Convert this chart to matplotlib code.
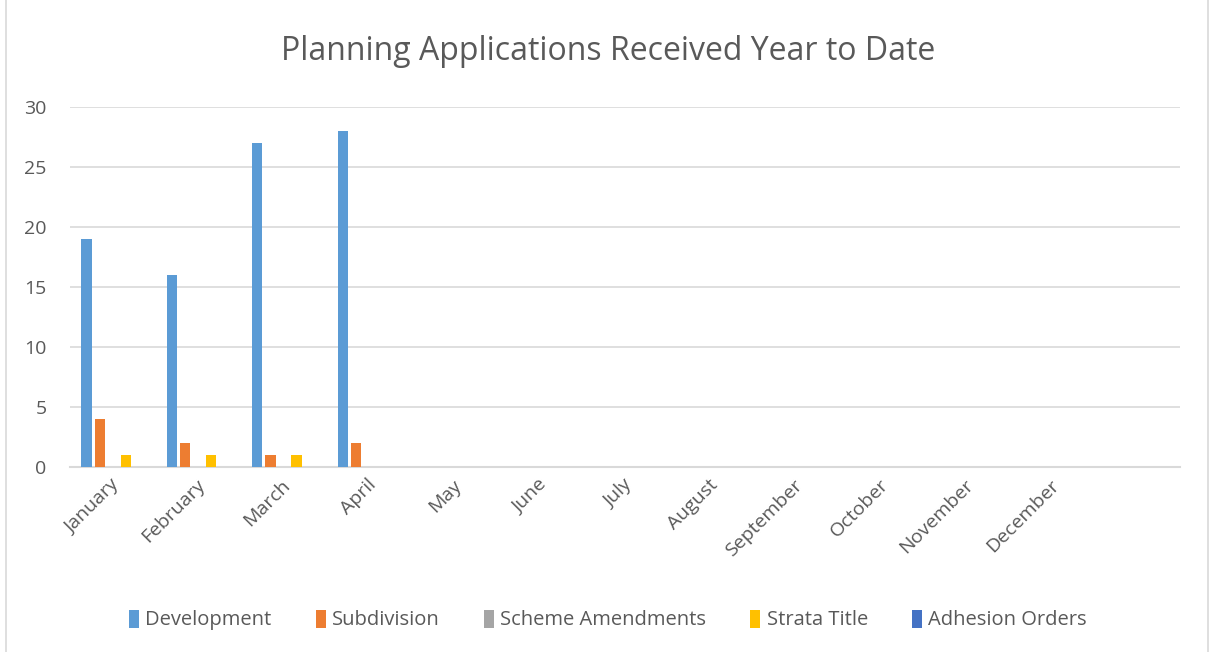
import numpy as np
import matplotlib
matplotlib.use("Agg")
import matplotlib.pyplot as plt
from matplotlib.patches import Rectangle

# Meses (la ultima posicion queda vacia, como en la hoja original)
months = ["January", "February", "March", "April", "May", "June", "July",
          "August", "September", "October", "November", "December", ""]

development = [19, 16, 27, 28, 0, 0, 0, 0, 0, 0, 0, 0, 0]
subdivision = [4, 2, 1, 2, 0, 0, 0, 0, 0, 0, 0, 0, 0]
scheme_amendments = [0, 0, 0, 0, 0, 0, 0, 0, 0, 0, 0, 0, 0]
strata_title = [1, 1, 1, 0, 0, 0, 0, 0, 0, 0, 0, 0, 0]
adhesion_orders = [0, 0, 0, 0, 0, 0, 0, 0, 0, 0, 0, 0, 0]

series = [
    ("Development", development, "#5B9BD5"),
    ("Subdivision", subdivision, "#ED7D31"),
    ("Scheme Amendments", scheme_amendments, "#A5A5A5"),
    ("Strata Title", strata_title, "#FFC000"),
    ("Adhesion Orders", adhesion_orders, "#4472C4"),
]

txt = "#595959"
grid = "#d9d9d9"
plt.rcParams['font.family'] = ['Open Sans', 'DejaVu Sans']

fig = plt.figure(figsize=(12.16, 6.52), dpi=100)
ax = fig.add_axes([70 / 1216, 1 - 467 / 652, 1110 / 1216, 360 / 652])

# Marco gris alrededor del grafico
fig.patches.append(Rectangle((6 / 1216, -0.01), 1202 / 1216, 1.02,
                             transform=fig.transFigure, fill=False,
                             edgecolor=grid, linewidth=1.2))

x = np.arange(len(months))
step = 0.153
bar_w = 0.12
for i, (name, vals, col) in enumerate(series):
    ax.bar(x + (i - 2) * step, vals, width=bar_w, color=col,
           linewidth=0, label=name, zorder=3)

ax.set_xlim(-0.5, len(months) - 0.5)
ax.set_ylim(0, 30)
ax.set_yticks(range(0, 31, 5))
ax.yaxis.grid(True, color=grid, linewidth=1.2, zorder=0)
for s in ["top", "right", "left"]:
    ax.spines[s].set_visible(False)
ax.spines["bottom"].set_color(grid)
ax.spines["bottom"].set_linewidth(1.5)

ax.tick_params(axis="y", length=0, pad=17, labelsize=14, labelcolor=txt)
ax.tick_params(axis="x", length=0, pad=11, labelsize=14, labelcolor=txt)
ax.set_xticks(x + 0.05)
ax.set_xticklabels(months, rotation=45, ha="right", va="center",
                   rotation_mode="anchor")

fig.text(0.5, 1 - 52 / 652, "Planning Applications Received Year to Date",
         ha="center", va="center", fontsize=23, color=txt)

leg = fig.legend(loc="center", bbox_to_anchor=(0.5, 1 - 620 / 652), ncol=5,
                 frameon=False, fontsize=14.5, handlelength=0.5,
                 handleheight=1.0, handletextpad=0.3, columnspacing=2.2)
for t in leg.get_texts():
    t.set_color(txt)

fig.savefig("out.png", dpi=100, facecolor="white")
